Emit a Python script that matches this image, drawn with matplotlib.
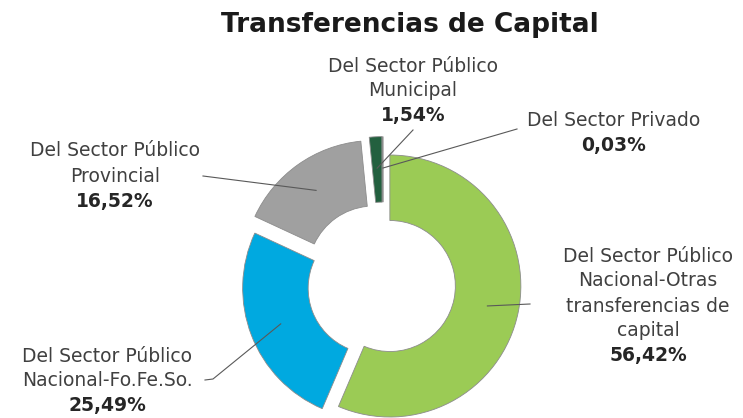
import numpy as np
import matplotlib.pyplot as plt

W, H = 743, 418

# datos del gráfico
labels = ['Del Sector Público\nNacional-Otras\ntransferencias de\ncapital',
          'Del Sector Público\nNacional-Fo.Fe.So.',
          'Del Sector Público\nProvincial',
          'Del Sector Público\nMunicipal',
          'Del Sector Privado']
values = [56.42, 25.49, 16.52, 1.54, 0.03]
pct_labels = ['56,42%', '25,49%', '16,52%', '1,54%', '0,03%']
colors = ['#9BCB55', '#00A9E0', '#A0A0A0', '#23603F', '#7F7F7F']

# posiciones de las etiquetas (px, desde arriba)
label_xy = [(648, 256), (107, 356), (115, 151), (413, 66), (614, 120)]
line_end = [(530, 304), (205, 380), (203, 176), (413, 130), (517, 129)]
elbow = [None, (213, 379), None, None, None]
explode = [7, 10, 16, 17, 17]

plt.rcParams['font.family'] = ['DejaVu Sans']

fig = plt.figure(figsize=(W / 100, H / 100), dpi=100)
ax = fig.add_axes([0, 0, 1, 1])

wedges, _ = ax.pie(values, colors=colors, startangle=90, counterclock=False,
                   radius=131, center=(383, H - 284.6), explode=explode,
                   wedgeprops=dict(width=65.5, edgecolor='#8c8c8c', linewidth=0.6))
ax.set_xlim(0, W)
ax.set_ylim(0, H)
ax.set_aspect('auto')
ax.axis('off')

ax.text(410, H - 25, 'Transferencias de Capital', ha='center', va='center',
        fontsize=19, fontweight='bold', color='#1a1a1a')

step = 25
for w, lab, pct, (lx, ly), end, elb in zip(wedges, labels, pct_labels, label_xy, line_end, elbow):
    lines = lab.split('\n')
    for i, t in enumerate(lines):
        ax.text(lx, H - (ly + i * step), t, ha='center', va='center',
                fontsize=13.5, color='#404040')
    ax.text(lx, H - (ly + len(lines) * step), pct, ha='center', va='center',
            fontsize=13.5, fontweight='bold', color='#262626')
    # línea guía desde el centro del sector
    th = np.deg2rad((w.theta1 + w.theta2) / 2)
    cx, cy = w.center
    ax_ = cx + 0.76 * w.r * np.cos(th)
    ay_ = cy + 0.76 * w.r * np.sin(th)
    xs, ys = [ax_], [ay_]
    if elb is not None:
        xs.append(elb[0]); ys.append(H - elb[1])
    xs.append(end[0]); ys.append(H - end[1])
    ax.plot(xs, ys, color='#595959', lw=0.8)

fig.savefig('out.png', dpi=100)
